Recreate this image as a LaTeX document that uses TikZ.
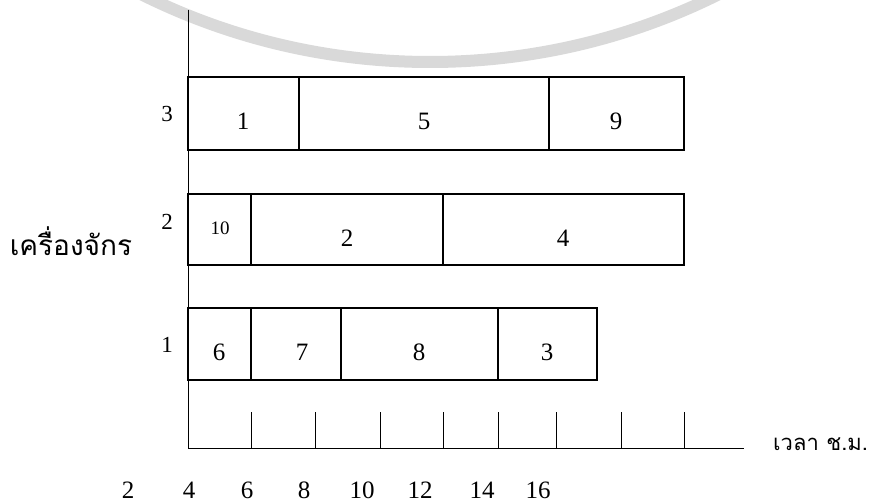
\documentclass[tikz,border=0pt]{standalone}
\usepackage{fontspec}
\setmainfont{Liberation Serif}
\newfontfamily\thaifont[Script=Thai]{Loma}
\definecolor{wmgray}{HTML}{D9D9D9}
\begin{document}
\begin{tikzpicture}[x=1pt,y=-1pt,
  jobbox/.style={draw, line width=1.3pt, rectangle, inner sep=0pt},
  num/.style={font=\fontsize{25}{27}\selectfont, inner sep=0pt},
  axnum/.style={font=\fontsize{25}{27}\selectfont, inner sep=0pt},
  rownum/.style={font=\fontsize{23}{25}\selectfont, inner sep=0pt},
  smallnum/.style={font=\fontsize{19}{21}\selectfont, inner sep=0pt},
  axis/.style={line width=0.9pt},
  tick/.style={line width=0.8pt},
  thaiy/.style={font=\thaifont\fontsize{28}{32}\selectfont, inner sep=0pt},
  thaix/.style={font=\thaifont\fontsize{22}{26}\selectfont, inner sep=0pt}]
\useasboundingbox (0,0) rectangle (874,502);
% watermark arc
\begin{scope}
  \clip (0,0) rectangle (874,90);
  \draw[wmgray, line width=12pt] (430,-586) circle[radius=648pt];
\end{scope}
% axes
\coordinate (O) at (188,448);
\coordinate (ytop) at (188,10);
\coordinate (xend) at (744,448);
\draw[axis] (ytop) -- (O) -- (xend);
\foreach \x [count=\i] in {251,315,380,443,498,556,621,684}{
  \coordinate (tb\i) at (\x,448);
  \coordinate (tt\i) at (\x,412);
  \draw[tick] (tb\i) -- (tt\i);
}
% machine 3
\node[jobbox, minimum width=111pt, minimum height=73pt] (m3a) at (243.5,113.5) {};
\node[jobbox, minimum width=250pt, minimum height=73pt] (m3b) at (424,113.5) {};
\node[jobbox, minimum width=135pt, minimum height=73pt] (m3c) at (616.5,113.5) {};
\node[num] (l3a) at (243,121) {1};
\node[num] (l3b) at (424,121) {5};
\node[num] (l3c) at (616,121) {9};
% machine 2
\node[jobbox, minimum width=63pt, minimum height=71pt] (m2a) at (219.5,229.5) {};
\node[jobbox, minimum width=192pt, minimum height=71pt] (m2b) at (347,229.5) {};
\node[jobbox, minimum width=241pt, minimum height=71pt] (m2c) at (563.5,229.5) {};
\node[smallnum] (l2a) at (220,228) {10};
\node[num] (l2b) at (347,238) {2};
\node[num] (l2c) at (563,238) {4};
% machine 1
\node[jobbox, minimum width=63pt, minimum height=72pt] (m1a) at (219.5,344) {};
\node[jobbox, minimum width=90pt, minimum height=72pt] (m1b) at (296,344) {};
\node[jobbox, minimum width=157pt, minimum height=72pt] (m1c) at (419.5,344) {};
\node[jobbox, minimum width=99pt, minimum height=72pt] (m1d) at (547.5,344) {};
\node[num] (l1a) at (219,352) {6};
\node[num] (l1b) at (302,352) {7};
\node[num] (l1c) at (419,352) {8};
\node[num] (l1d) at (547,352) {3};
% row labels
\node[rownum] (r3) at (167,114) {3};
\node[rownum] (r2) at (167,222) {2};
\node[rownum] (r1) at (167,345) {1};
% axis titles
\node[thaiy, anchor=base] (ylab) at (71,255) {เครื่องจักร};
\node[thaix, anchor=base west] (xlab) at (773,450) {เวลา ช.ม.};
% time labels
\foreach \x/\t [count=\i] in {128/2,189/4,247/6,304/8,362/10,420/12,482/14,538/16}{
  \node[axnum] (tl\i) at (\x,490) {\t};
}
\end{tikzpicture}
\end{document}
